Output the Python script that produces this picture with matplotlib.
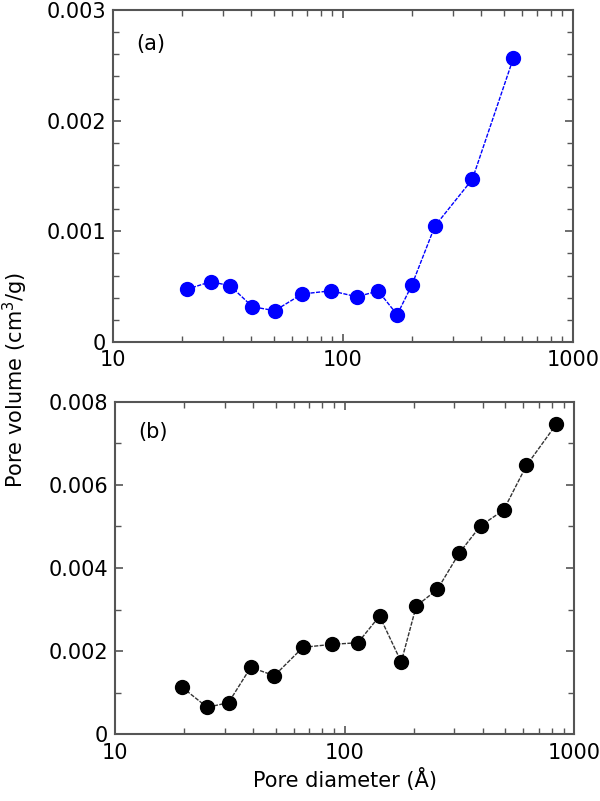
import numpy as np
import matplotlib

matplotlib.use("Agg")
import matplotlib.pyplot as plt
from matplotlib.ticker import FixedLocator, MultipleLocator, LogLocator, NullFormatter

plt.rcParams["font.family"] = ["DejaVu Sans"]

# panel (a)
diam_a = [20.9, 26.6, 32.3, 40.4, 50.5, 66.4, 88.7, 114.8, 142.3, 172, 199, 251, 365, 550]
vol_a = [0.000476, 0.000545, 0.000509, 0.000319, 0.000283, 0.000434, 0.000463,
         0.000409, 0.000461, 0.000247, 0.000512, 0.001048, 0.001470, 0.002563]

# panel (b)
diam_b = [19.6, 25.2, 31.2, 39.0, 49.4, 65.8, 87.9, 114.2, 141.9, 176.3, 205,
          253.5, 316, 390.5, 492, 619, 835]
vol_b = [0.001130, 0.000649, 0.000760, 0.001611, 0.001409, 0.002091, 0.002163,
         0.002202, 0.002844, 0.001740, 0.003084, 0.003486, 0.004365, 0.005014,
         0.005392, 0.006466, 0.007459]

yticks_a = [0, 0.001, 0.002, 0.003]
yticks_b = [0, 0.002, 0.004, 0.006, 0.008]

SPINE = "#555555"
FS = 15

fig = plt.figure(figsize=(6, 8.01), dpi=100)
ax_a = fig.add_axes([0.1883, 0.5730, 0.7667, 0.4145])
ax_b = fig.add_axes([0.1917, 0.0833, 0.7655, 0.4152])


def style(ax, yticks, minor):
    ax.set_xscale("log")
    ax.set_xlim(10, 1000)
    ax.set_ylim(yticks[0], yticks[-1])
    ax.set_yticks(yticks)
    ax.set_yticklabels(["0" if t == 0 else f"{t:.3f}" for t in yticks])
    ax.yaxis.set_minor_locator(MultipleLocator(minor))
    ax.xaxis.set_major_locator(FixedLocator([10, 100, 1000]))
    ax.set_xticklabels(["10", "100", "1000"])
    ax.xaxis.set_minor_locator(LogLocator(base=10, subs=np.arange(2, 10)))
    ax.xaxis.set_minor_formatter(NullFormatter())
    ax.tick_params(which="both", direction="in", top=True, right=True,
                   color=SPINE, labelsize=FS)
    ax.tick_params(which="major", length=6, width=1.2)
    ax.tick_params(which="minor", length=4, width=1.0)
    ax.tick_params(axis="x", pad=6)
    ax.tick_params(axis="y", pad=5)
    for s in ax.spines.values():
        s.set_color(SPINE)
        s.set_linewidth(1.5)


style(ax_a, yticks_a, 0.0002)
style(ax_b, yticks_b, 0.001)

ax_a.plot(diam_a, vol_a, color="#0000ff", lw=1, ls=(0, (3, 1)), marker="o",
          ms=10, mfc="#0000ff", mec="#0000ff")
ax_b.plot(diam_b, vol_b, color="#333333", lw=1, ls=(0, (3, 1)), marker="o",
          ms=10, mfc="black", mec="black")

ax_a.text(0.05, 0.898, "(a)", transform=ax_a.transAxes, fontsize=FS, va="center")
ax_b.text(0.05, 0.909, "(b)", transform=ax_b.transAxes, fontsize=FS, va="center")

fig.text(0.025, 0.526, "Pore volume (cm$^3$/g)", rotation=90, va="center",
         ha="center", fontsize=FS)
ax_b.set_xlabel("Pore diameter (Å)", fontsize=FS, labelpad=4)

fig.savefig("out.png", dpi=100)
